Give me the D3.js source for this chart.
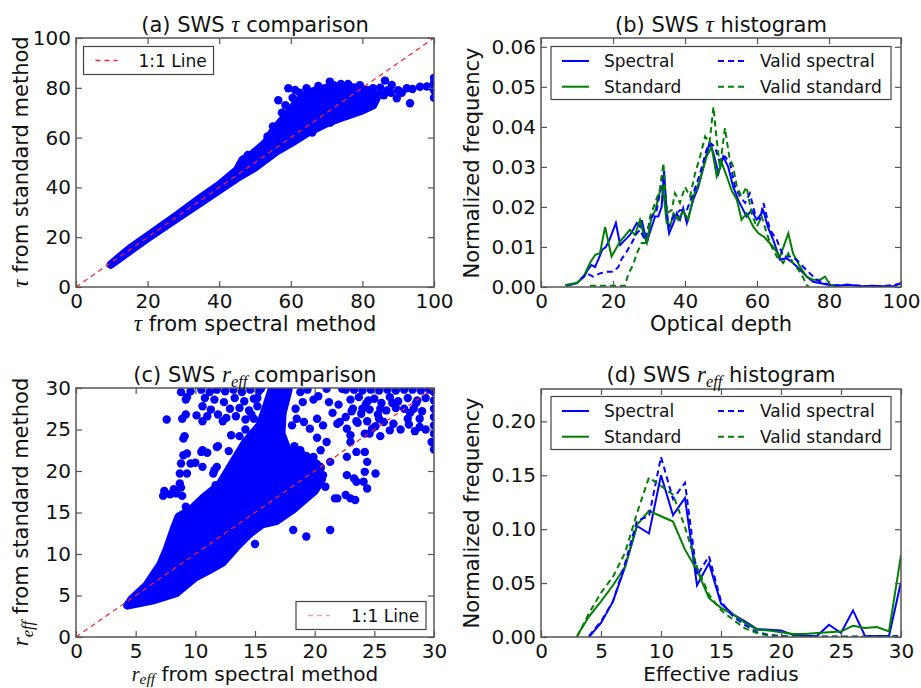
<!DOCTYPE html>
<html>
<head>
<meta charset="utf-8">
<script src="https://cdn.jsdelivr.net/npm/d3@7"></script>
<style>
  body { margin: 0; background: #fff; }
  text { font-family: "DejaVu Sans", sans-serif; fill: #111; }
</style>
</head>
<body>
<svg id="fig" width="921" height="688"></svg>
<script>
// ---- (a) tau scatter: dense band outline (point centres) + loose points
var tauDense = [[9.7,9],[15,14.5],[20,19.6],[28,27.4],[37,36],[45,43.8],[50,48],[56,54.5],[60,57.8],
  [65,62.3],[70,65.8],[75,68.5],[80,71],[83,73],[84,76],[82,79],[78,80],[74,80.5],[70,80],[66,78.5],
  [63,76],[61,73],[59,69.5],[57,66],[55,62.5],[53,58],[51,55.5],[49,53],[46.5,51],[45,47],[40,41],
  [35,36],[28,28.6],[20,20.4],[15,15.4],[11,10.6]];
var tauPts = [[56.5,75],[59.3,79.8],[61.2,79.1],[64.4,79.8],[67.7,80.7],[70.9,82.5],[76,81.5],[79.3,81],
  [83,79.8],[86.3,82.9],[88.2,81.1],[84.9,77.8],[89.6,75.8],[93.3,73.8],[92.4,79.8],[96.1,80.4],[99.4,80.4],
  [100,84],[100,82],[100,79],[100,76],[85,80],[87,79],[90,79],[91,78],[94,79.5],[98,80.5],[82,77.5],
  [81,75.5],[83.5,75],[86,77],[88,78],[48,53],[50,54],[52,55.5],[57.5,70],[58.5,73],[60.5,76],[62.5,78],
  [65.5,77.5],[72,81],[74,81.5],[55,64.5],[53.5,60.5],[61,59],[66,62],[71,66],[58,60],[77,71.5]];

// ---- (b) tau histograms [optical depth, normalized frequency]
var tauSpec = [[7,0.0003],[8,0.0005],[10,0.001],[12,0.0026],[13,0.0043],[14,0.0055],[15,0.005],[16,0.007],
  [17,0.0093],[18,0.010],[19,0.0117],[20.8,0.016],[22,0.0105],[23.3,0.0117],[24.7,0.013],[25.6,0.0143],
  [26.6,0.016],[27.5,0.015],[28,0.0167],[29.4,0.011],[30,0.013],[31.7,0.0176],[32.6,0.0176],[33.5,0.02],
  [34.2,0.029],[34.9,0.0184],[35.6,0.0134],[36.8,0.016],[37.7,0.0184],[38.6,0.0168],[39.5,0.0197],
  [40.5,0.016],[42.3,0.0218],[43.7,0.025],[45.1,0.030],[46.8,0.036],[47.9,0.0334],[49.3,0.0284],
  [50.6,0.0326],[52,0.030],[53.4,0.025],[54.8,0.0217],[56.2,0.0192],[57.1,0.0176],[58.5,0.0192],
  [59.9,0.0168],[61.8,0.019],[63,0.015],[64.5,0.0118],[66.4,0.0068],[68.2,0.0072],[70,0.006],[72,0.0043],
  [73.8,0.0026],[75.6,0.0013],[78.4,0.0008],[80,0.0005],[83,0.0003],[85,0.0006],[87,0.0004],[89,0.0002],
  [92,0.0003],[95,0.0002],[98,0.0002],[100,0.001]];
var tauStd = [[6.7,0.0005],[9.9,0.001],[11.8,0.0026],[13.6,0.006],[15,0.008],[16.4,0.0085],[17.8,0.015],
  [19.6,0.0076],[21.9,0.0113],[24.7,0.0143],[26.1,0.013],[27.5,0.0168],[28.4,0.0135],[29.4,0.011],
  [30.7,0.0176],[31.7,0.019],[32.9,0.0234],[33.8,0.0255],[34.9,0.016],[35.8,0.015],[36.8,0.0184],
  [38.1,0.0168],[39.5,0.019],[40.9,0.0168],[42.3,0.0226],[44.2,0.0268],[46,0.0326],[47.4,0.035],
  [48.8,0.0276],[50.2,0.031],[51.6,0.0276],[53,0.024],[54.4,0.0218],[55.7,0.0168],[57.1,0.0184],
  [59,0.015],[60.4,0.0134],[62,0.0125],[64.5,0.010],[66.4,0.0076],[68.7,0.0134],[70,0.0084],[72,0.005],
  [73.8,0.0026],[75.6,0.0018],[77.5,0.0018],[78.9,0.0026],[80.3,0.0005],[82,0]];
var tauValidSpec = [[11,0.002],[12.7,0.0034],[14.5,0.0026],[16.4,0.0034],[18.2,0.0038],[20,0.0038],
  [21.5,0.005],[22.4,0.007],[23.8,0.0088],[25.2,0.011],[26.6,0.0134],[27.5,0.0143],[28.9,0.0117],
  [30.3,0.0168],[32.1,0.019],[34,0.0284],[35.4,0.015],[36.8,0.0176],[38.6,0.0192],[40.5,0.0192],
  [42.3,0.0234],[44.2,0.0284],[46,0.0343],[47,0.036],[48.3,0.035],[49.7,0.031],[51.1,0.0326],
  [52.5,0.031],[53.9,0.025],[55.3,0.0226],[56.7,0.021],[58,0.0234],[59.4,0.0184],[60.8,0.0168],
  [61.8,0.021],[63.6,0.0143],[65.5,0.0118],[67.3,0.0076],[69.2,0.0076],[71,0.0068],[72.9,0.005],
  [74.7,0.0034],[76.6,0.0018],[78.5,0.001],[80,0.0006],[83,0.0004],[86,0.0005],[90,0.0002],
  [95,0.0002],[100,0.0008]];
var tauValidStd = [[13.6,0.0003],[16,0.0003],[19,0.0003],[21,0.0003],[23.3,0.0003],[24.3,0.0034],
  [25.6,0.0055],[26.6,0.0084],[28,0.011],[29.4,0.011],[30.3,0.0176],[31.7,0.021],[33,0.0243],[34,0.031],
  [34.9,0.0184],[36.3,0.0192],[37.2,0.0234],[38.6,0.021],[40,0.025],[41.4,0.0226],[42.8,0.0284],
  [44.2,0.0326],[45.6,0.0376],[46.8,0.036],[47.9,0.045],[48.8,0.0368],[49.7,0.030],[51.1,0.0397],
  [52.3,0.0326],[53.4,0.030],[54.4,0.025],[55.7,0.0226],[57.1,0.025],[58.5,0.0184],[59.9,0.015],
  [61.3,0.0176],[62.7,0.0134],[64.1,0.010],[65.5,0.0076],[67.3,0.006],[68.7,0.0084],[70,0.006],
  [71.5,0.0043],[72.9,0.0022],[73.8,0.0005],[74.5,0]];

// ---- (c) r_eff scatter: dense cone (point centres) + loose points
var reffCone = [[4.3,3.8],[6.4,4.4],[8.4,5.3],[10,7.2],[11.2,8.1],[12.3,9],[13.4,10.8],[14.5,12.4],
  [15.6,13.6],[16.8,14],[18.2,15.4],[20,17.6],[20.6,19],[20.2,20.8],[19.3,21.8],[17.8,22.3],[17.2,24.5],
  [17.3,27],[17.8,29.8],[16.4,29.8],[16,28],[15.4,25.5],[14.2,23.5],[13.4,21.6],[12,18.3],[10.7,16.8],
  [9.6,15.3],[8.6,14.5],[8.2,13],[7.6,10.5],[7.1,8.8],[5.9,6.2],[4.7,4.6]];
var reffPts = [
  // upper-left cluster
  [10.5,29.8],[11.2,29.5],[11.8,29.8],[12.5,29.6],[13.2,29.8],[13.9,29.5],[14.6,29.8],[15.3,29.6],
  [10.8,28.8],[11.6,28.6],[12.4,28.3],[13.3,28.8],[14.1,28.4],[14.9,28.7],[10.6,27.8],[11.3,27.4],
  [12.9,27.5],[13.7,27.6],[14.5,27.3],[15.2,27.8],[11,26.6],[11.9,26.8],[12.6,26.4],[13.4,26.6],
  [14.2,26.2],[14.9,26.3],
  // left loose points
  [7.6,26.2],[9.2,28.6],[8.9,26.3],[9.2,26.8],[10.1,26.7],[10.6,26],[12.3,26],[9,23.9],
  [9.1,24.2],[11.9,23],[10.5,22.3],[11,22.2],[9,21.9],[9.3,22.1],[8.8,20.9],[10,21],[10.6,20.5],
  [11.6,20.1],[8.7,19.7],[7.4,17.6],[7.3,17],[7.9,17.2],[8.2,17.8],[8.4,17.3],[8.8,18],[8.9,17],
  [9.2,15.7],[11.7,18.3],[12.3,18.7],[9.3,28.9],[8.8,29.5],[9.6,29.6],[10.6,22.5],[11.8,22.9],
  [9.3,19.7],[9.6,20.9],[8.7,18.5],[11.8,20.5],[11.5,19.7],[12.8,22.4],[13,24.3],
  // strand edges
  [18.3,23],[18.1,25.5],[18.4,27.5],[18.8,29.5],[19.4,29.8],[15.5,29.9],[15.2,28.8],[14.7,26.8],
  [14.2,25],[13.7,24.2],[19,28.3],[18.5,26.3],
  // right of the cone
  [19.9,28.6],[20.7,25.5],[20.2,26.3],[19.6,25.1],[19.1,25.9],[21.9,25.7],[22.7,25.1],[23,24.3],
  [23,23.5],[22.7,21.7],[23.5,22.3],[24.2,22.3],[24.4,21.1],[24.2,19.9],[24.1,18.7],[24.4,17.9],
  [25.1,19.7],[22.7,19.5],[23.3,19.1],[23.5,18.7],[21.9,16.7],[22.6,17.1],[23,16.7],[23.4,16.5],
  [21.3,21.1],[20.7,19.5],[20.5,20.3],[21.3,12.9],[19.3,12.1],[18.2,12.9],[15,11.2],[21.7,16.7],
  [20.5,22.5],[21,23.5],[20.2,24],[21.5,27],[22,28],[21,29.9],[22.3,29.9],[20.3,29],[21.2,28.3],
  [18.8,22.5],[19.9,21.7],[20.5,20.5],[19.3,18.5],[20.9,18.1],
  // upper-right cluster
  [22.6,29.8],[23.3,29.8],[24,29.7],[24.7,29.8],[25.4,29.7],[26.1,29.8],[26.8,29.7],[27.5,29.8],
  [28.2,29.8],[28.9,29.7],[29.6,29.8],[23,28.6],[23.7,28.9],[24.3,28.1],[25,28.7],[25.6,28.2],
  [26.3,28.9],[27,28.4],[27.8,28.8],[28.6,28.5],[29.3,28.8],[23.2,27.5],[23.9,26.9],[24.6,27.4],
  [25.3,26.8],[26,27.3],[26.8,27.6],[28.3,27.5],[29,27.2],[23.6,25.8],[24.4,26],[25.1,25.4],
  [25.8,25.9],[26.3,24.9],[27.9,25.6],[28.4,24.8],[24.6,24.5],[25.5,24.2],
  [23.5,26],[24,27.5],[24.5,28.5],[27.5,27.5],[28,27],[28.5,28.2],[27.8,26.3],[28.8,26.3],[27.2,25],
  [26.6,25.7],[25.4,26.3],[24.8,25.1],[29.3,25],[29.8,23.5],[28.8,25.3],[26.5,28.2],[25.5,27.5],
  [24.2,24.5],[22.1,25.9],[22.6,26.5],[23.1,27.2],
  [30,22.6],[30,23.5],[30,24.5],[30,25.5],[30,26.5],[30,27.5],[30,28.5],[30,29.5]];

// ---- (d) r_eff histograms [effective radius, normalized frequency]
var reffSpec = [[4,0],[5,0.013],[6,0.033],[7,0.065],[8,0.103],[9,0.096],[10,0.150],[11,0.113],[12,0.129],
  [13,0.048],[14,0.0685],[15,0.031],[16,0.021],[17,0.0145],[18,0.0074],[19,0.0068],[20,0.006],[21,0.002],
  [22,0.001],[23,0.001],[24,0.0114],[25,0.0037],[26,0.0247],[27,0.001],[28,0.001],[29,0.001],[30,0.051]];
var reffStd = [[3,0.001],[4,0.019],[5,0.033],[6,0.048],[7,0.065],[8,0.104],[9,0.117],[10,0.112],[11,0.107],
  [12,0.081],[13,0.062],[14,0.036],[15,0.027],[16,0.021],[17,0.013],[18,0.0068],[19,0.006],[20,0.0043],
  [21,0.0028],[22,0.0028],[23,0.0037],[24,0.0043],[25,0.005],[26,0.0105],[27,0.0083],[28,0.0093],
  [29,0.0052],[30,0.076]];
var reffValidSpec = [[4,0.001],[5,0.0145],[6,0.033],[7,0.068],[8,0.108],[9,0.112],[10,0.167],[11,0.128],
  [12,0.143],[13,0.057],[14,0.075],[15,0.033],[16,0.019],[17,0.011],[18,0.0045],[19,0.002],[20,0.001],
  [21,0.0005],[22,0.0003],[23,0.0003],[24,0.0005],[25,0.0003],[26,0.0005],[27,0.0003],[28,0.0003],
  [29,0.0003],[30,0.0015]];
var reffValidStd = [[3,0],[4,0.022],[5,0.041],[6,0.056],[7,0.078],[8,0.115],[9,0.148],[10,0.14],[11,0.132],
  [12,0.102],[13,0.065],[14,0.039],[15,0.025],[16,0.016],[17,0.008],[18,0.0037],[19,0.001],[20,0.0005],
  [22,0.0003],[25,0.0003],[28,0.0003],[30,0.0003]];

// tick values
var tauTicks = [0, 20, 40, 60, 80, 100];
var reffTicks = [0, 5, 10, 15, 20, 25, 30];
var tauFreqTicks = [0, 0.01, 0.02, 0.03, 0.04, 0.05, 0.06];
var reffFreqTicks = [0, 0.05, 0.10, 0.15, 0.20];

var svg = d3.select("#fig");
svg.append("rect").attr("width", 921).attr("height", 688).attr("fill", "#fff");

var serif = "'Liberation Serif', 'DejaVu Serif', serif";
var frameColor = "#555";

// set up one panel: scales and clip; axes are drawn later in finish()
function panel(id, box, xdom, ydom) {
  var x = d3.scaleLinear().domain(xdom).range([box.x0, box.x1]);
  var y = d3.scaleLinear().domain(ydom).range([box.y1, box.y0]);
  svg.append("clipPath").attr("id", "clip-" + id)
    .append("rect")
    .attr("x", box.x0).attr("y", box.y0)
    .attr("width", box.x1 - box.x0).attr("height", box.y1 - box.y0);
  var g = svg.append("g").attr("clip-path", "url(#clip-" + id + ")");
  return { x: x, y: y, g: g, box: box };
}

function styleAxis(a, labels) {
  a.select(".domain").remove();
  a.selectAll(".tick line").attr("stroke", frameColor).attr("stroke-width", 1.2);
  a.selectAll("text").attr("font-size", 20).attr("font-family", "DejaVu Sans").attr("fill", "#111");
  if (!labels) a.selectAll("text").remove();
}

function finish(p, xticks, yticks, yfmt) {
  var b = p.box;
  styleAxis(svg.append("g").attr("transform", "translate(0," + b.y1 + ")")
    .call(d3.axisBottom(p.x).tickValues(xticks).tickSizeInner(-6).tickSizeOuter(0)
      .tickPadding(7).tickFormat(d3.format("d"))), true);
  styleAxis(svg.append("g").attr("transform", "translate(0," + b.y0 + ")")
    .call(d3.axisTop(p.x).tickValues(xticks).tickSizeInner(-6).tickSizeOuter(0)), false);
  styleAxis(svg.append("g").attr("transform", "translate(" + b.x0 + ",0)")
    .call(d3.axisLeft(p.y).tickValues(yticks).tickSizeInner(-6).tickSizeOuter(0)
      .tickPadding(5).tickFormat(yfmt)), true);
  styleAxis(svg.append("g").attr("transform", "translate(" + b.x1 + ",0)")
    .call(d3.axisRight(p.y).tickValues(yticks).tickSizeInner(-6).tickSizeOuter(0)), false);
  svg.append("rect")
    .attr("x", b.x0).attr("y", b.y0)
    .attr("width", b.x1 - b.x0).attr("height", b.y1 - b.y0)
    .attr("fill", "none").attr("stroke", frameColor).attr("stroke-width", 1.5);
}

// text with math pieces: {t}, {m: "τ"} italic serif, {r: true} for r_eff
function mathText(sel, parts, size, subDy, mScale) {
  var sd = subDy || 5, ms = mScale || 1.1;
  parts.forEach(function(p) {
    if (p.t !== undefined) {
      sel.append("tspan").text(p.t);
    } else if (p.m) {
      sel.append("tspan").attr("font-family", serif).attr("font-style", "italic")
        .attr("font-size", size * ms).text(p.m);
    } else if (p.r) {
      sel.append("tspan").attr("font-family", serif).attr("font-style", "italic")
        .attr("font-size", size * ms).text("r");
      sel.append("tspan").attr("font-family", serif).attr("font-style", "italic")
        .attr("font-size", size * 0.78).attr("dy", sd).text("eff");
      sel.append("tspan").attr("dy", -sd).text("\u00a0");
    }
  });
}

function title(cx, by, parts) {
  var t = svg.append("text").attr("x", cx).attr("y", by).attr("text-anchor", "middle")
    .attr("font-size", 21);
  mathText(t, parts, 21);
}

function xlabel(cx, by, size, parts, subDy, mScale) {
  var t = svg.append("text").attr("x", cx).attr("y", by).attr("text-anchor", "middle")
    .attr("font-size", size);
  mathText(t, parts, size, subDy, mScale);
}

function ylabel(bx, cy, parts) {
  var t = svg.append("text").attr("transform", "translate(" + bx + "," + cy + ") rotate(-90)")
    .attr("text-anchor", "middle").attr("font-size", 21);
  mathText(t, parts, 21);
}

var dotLine = function(p) {
  return d3.line().x(function(d) { return p.x(d[0]); }).y(function(d) { return p.y(d[1]); });
};

function scatter(p, dense, pts) {
  dense.forEach(function(poly) {
    p.g.append("path").datum(poly)
      .attr("d", dotLine(p).curve(d3.curveLinearClosed))
      .attr("fill", "#0000ff").attr("stroke", "#0000ff")
      .attr("stroke-width", 8.4).attr("stroke-linejoin", "round");
  });
  p.g.selectAll("circle.pt").data(pts).enter().append("circle")
    .attr("class", "pt")
    .attr("cx", function(d) { return p.x(d[0]); })
    .attr("cy", function(d) { return p.y(d[1]); })
    .attr("r", 4.2).attr("fill", "#0000ff");
  var dom = p.x.domain();
  p.g.append("path").datum([[dom[0], dom[0]], [dom[1], dom[1]]])
    .attr("d", dotLine(p)).attr("stroke", "#ff2020").attr("stroke-width", 1.2)
    .attr("stroke-dasharray", "5,4").attr("fill", "none");
}

var series = [
  { name: "Spectral", color: "#0000ff", dash: null },
  { name: "Standard", color: "#008000", dash: null },
  { name: "Valid spectral", color: "#0000ff", dash: "6,4" },
  { name: "Valid standard", color: "#008000", dash: "6,4" }
];

function hist(p, data) {
  data.forEach(function(d, i) {
    p.g.append("path").datum(d)
      .attr("d", dotLine(p)).attr("fill", "none")
      .attr("stroke", series[i].color).attr("stroke-width", 2)
      .attr("stroke-dasharray", series[i].dash);
  });
}

function legend4(x0, y0) {
  svg.append("rect").attr("x", x0).attr("y", y0).attr("width", 340).attr("height", 53)
    .attr("fill", "#fff").attr("stroke", "#444").attr("stroke-width", 1.2);
  series.forEach(function(s, i) {
    var col = i < 2 ? 0 : 1, row = i % 2;
    var lx = x0 + 11 + col * 156, ly = y0 + 14.5 + row * 25.7;
    svg.append("line").attr("x1", lx).attr("x2", lx + 27).attr("y1", ly).attr("y2", ly)
      .attr("stroke", s.color).attr("stroke-width", 2).attr("stroke-dasharray", s.dash);
    svg.append("text").attr("x", lx + 42).attr("y", ly + 6).attr("font-size", 17).text(s.name);
  });
}

function legend1(x0, y0, faded) {
  svg.append("rect").attr("x", x0).attr("y", y0).attr("width", 130).attr("height", 28)
    .attr("fill", "#fff").attr("stroke", "#444").attr("stroke-width", 1.2);
  svg.append("line").attr("x1", x0 + 12).attr("x2", x0 + 34).attr("y1", y0 + 14).attr("y2", y0 + 14)
    .attr("stroke", faded ? "#ff9a9a" : "#ff2020").attr("stroke-width", 1.4)
    .attr("stroke-dasharray", "5,4");
  svg.append("text").attr("x", x0 + 55).attr("y", y0 + 20).attr("font-size", 17).text("1:1 Line");
}

var fmtInt = d3.format("d"), fmt2 = d3.format(".2f");

// (a)
var pa = panel("a", { x0: 76, x1: 434, y0: 38, y1: 287 }, [0, 100], [0, 100]);
scatter(pa, [tauDense], tauPts);
finish(pa, tauTicks, tauTicks, fmtInt);
legend1(83.5, 46.5, false);
title(255, 31.5, [{ t: "(a) SWS " }, { m: "τ" }, { t: " comparison" }]);
xlabel(255, 331, 21, [{ m: "τ" }, { t: " from spectral method" }]);
ylabel(28, 162, [{ m: "τ" }, { t: " from standard method" }]);

// (b)
var pb = panel("b", { x0: 541, x1: 901, y0: 38, y1: 287 }, [0, 100], [0, 0.0622]);
hist(pb, [tauSpec, tauStd, tauValidSpec, tauValidStd]);
finish(pb, tauTicks, tauFreqTicks, fmt2);
legend4(551, 46.5);
title(721, 31.5, [{ t: "(b) SWS " }, { m: "τ" }, { t: " histogram" }]);
xlabel(721, 331, 21, [{ t: "Optical depth" }]);
ylabel(479, 163, [{ t: "Normalized frequency" }]);

// (c)
var pc = panel("c", { x0: 76, x1: 434, y0: 388, y1: 637 }, [0, 30], [0, 30]);
scatter(pc, [reffCone], reffPts);
finish(pc, reffTicks, reffTicks, fmtInt);
legend1(296, 601.5, true);
title(255, 381.5, [{ t: "(c) SWS " }, { r: true }, { t: "comparison" }]);
xlabel(255, 681, 20, [{ r: true }, { t: "from spectral method" }], 2.5, 1.0);
ylabel(28, 512, [{ r: true }, { t: "from standard method" }]);

// (d)
var pd = panel("d", { x0: 541, x1: 901, y0: 389, y1: 637 }, [0, 30], [0, 0.23]);
hist(pd, [reffSpec, reffStd, reffValidSpec, reffValidStd]);
finish(pd, reffTicks, reffFreqTicks, fmt2);
legend4(551, 396.5);
title(721, 381.5, [{ t: "(d) SWS " }, { r: true }, { t: "histogram" }]);
xlabel(721, 681, 20, [{ t: "Effective radius" }]);
ylabel(479, 513, [{ t: "Normalized frequency" }]);
</script>
</body>
</html>
